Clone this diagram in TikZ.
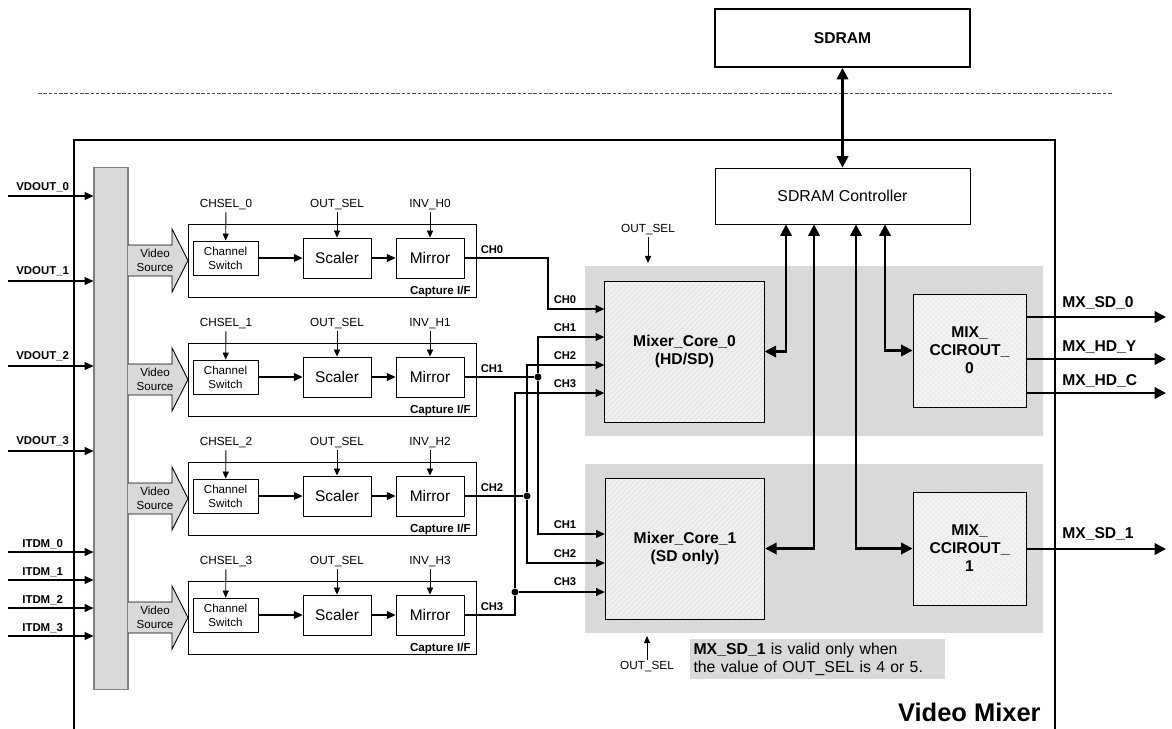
\documentclass[tikz,border=0pt]{standalone}
\usepackage{fontspec}
\setmainfont{Liberation Sans}
\usetikzlibrary{arrows.meta,patterns}

\begin{document}
\begin{tikzpicture}[x=0.02cm,y=-0.02cm,
    thin arrow/.style={line width=0.5pt,-{Triangle[length=4pt,width=3.5pt]}},
    med arrow/.style={line width=0.6pt,-{Triangle[length=5pt,width=4.5pt]}},
    mem arrow/.style={line width=1.3pt,{Triangle[length=6.5pt,width=6.5pt]}-{Triangle[length=6.5pt,width=6.5pt]}},
    out arrow/.style={line width=1.3pt,-{Triangle[length=6.5pt,width=6.5pt]}},
    small label/.style={font=\fontsize{6.7}{8}\selectfont,inner sep=1pt},
    pin label/.style={font=\bfseries\fontsize{6.5}{8}\selectfont,inner sep=0pt,anchor=west},
    ch label/.style={font=\bfseries\fontsize{6.4}{8}\selectfont,inner sep=0pt},
    out label/.style={font=\bfseries\fontsize{8.9}{10}\selectfont,inner sep=0pt,anchor=west},
    cap label/.style={font=\bfseries\fontsize{6.6}{8}\selectfont,inner sep=0pt,anchor=east},
    capbox/.style={draw,line width=0.5pt,minimum width=5.76cm,minimum height=1.46cm,inner sep=0pt},
    swbox/.style={draw,line width=0.5pt,minimum width=1.3cm,minimum height=0.68cm,inner sep=0pt,
        align=center,font=\fontsize{6.6}{8}\selectfont},
    blkbox/.style={draw,line width=0.5pt,minimum width=1.36cm,minimum height=0.8cm,inner sep=0pt,
        font=\fontsize{8.8}{10}\selectfont},
    srcname/.style={align=center,inner sep=0pt,font=\fontsize{6.6}{8}\selectfont},
    corebox/.style={draw,line width=0.5pt,minimum width=3.19cm,minimum height=2.82cm,
        preaction={fill=black!9},preaction={pattern=north east lines,pattern color=white!70!black!9},
        inner sep=0pt,align=center,font=\bfseries\fontsize{8.9}{10.2}\selectfont},
    ccirbox/.style={draw,line width=0.5pt,minimum width=2.26cm,minimum height=2.26cm,
        preaction={fill=black!8},preaction={pattern=crosshatch,pattern color=white!60!black!8},
        inner sep=0pt,align=center,font=\bfseries\fontsize{8.9}{10.3}\selectfont},
    membox/.style={draw,minimum width=5.1cm,inner sep=0pt},
    joint/.style={circle,fill,inner sep=0pt,minimum size=4pt},
  ]

\def\PANELGRAY{black!15}
\def\BUSGRAY{black!15}
\useasboundingbox (0,0) rectangle (1172,728);

	% memory side
	\draw[dash pattern=on 2pt off 1pt,line width=0.4pt,black!70] (38,93) -- (1113,93);
	\node[membox,line width=1.1pt,minimum height=1.16cm,font=\bfseries\fontsize{8.9}{10}\selectfont] (sdram) at (842.5,38) {SDRAM};
	\draw[line width=1.1pt] (74,740) -- (74,140) -- (1055,140) -- (1055,740);
	\node[membox,line width=0.5pt,minimum height=1.12cm,font=\fontsize{9}{10}\selectfont] (sdc) at (842.5,196) {SDRAM Controller};
	\draw[mem arrow] (sdram) -- (sdc);

	% gray panels
	\fill[\PANELGRAY] (585,266) rectangle (1043,436);
	\fill[\PANELGRAY] (585,464) rectangle (1043,633);

	% input bus
	\node[draw=gray,fill=\BUSGRAY,line width=0.6pt,minimum width=0.68cm,minimum height=10.46cm,inner sep=0pt] (bus) at (111,428.5) {};
	\coordinate (vd0) at (8,196);
	\coordinate (vd1) at (8,281);
	\coordinate (vd2) at (8,366);
	\coordinate (vd3) at (8,451);
	\coordinate (it0) at (8,552);
	\coordinate (it1) at (8,580);
	\coordinate (it2) at (8,608);
	\coordinate (it3) at (8,636);
	\draw[med arrow] (vd0) -- (bus.west |- vd0);
	\draw[med arrow] (vd1) -- (bus.west |- vd1);
	\draw[med arrow] (vd2) -- (bus.west |- vd2);
	\draw[med arrow] (vd3) -- (bus.west |- vd3);
	\draw[med arrow] (it0) -- (bus.west |- it0);
	\draw[med arrow] (it1) -- (bus.west |- it1);
	\draw[med arrow] (it2) -- (bus.west |- it2);
	\draw[med arrow] (it3) -- (bus.west |- it3);
	\node[pin label] (vdl0) at (16,187) {VDOUT\_0};
	\node[pin label] (vdl1) at (16,271) {VDOUT\_1};
	\node[pin label] (vdl2) at (16,356) {VDOUT\_2};
	\node[pin label] (vdl3) at (16,441) {VDOUT\_3};
	\node[pin label] (itl0) at (22,544) {ITDM\_0};
	\node[pin label] (itl1) at (22,572) {ITDM\_1};
	\node[pin label] (itl2) at (22,600) {ITDM\_2};
	\node[pin label] (itl3) at (22,628) {ITDM\_3};

	% video source arrows
	\draw[fill=\BUSGRAY,line width=0.5pt] (128,245) -- (172,245) -- (172,229) -- (188,260.5) -- (172,292) -- (172,276) -- (128,276);
	\draw[fill=\BUSGRAY,line width=0.5pt] (128,364) -- (172,364) -- (172,348) -- (188,379.5) -- (172,411) -- (172,395) -- (128,395);
	\draw[fill=\BUSGRAY,line width=0.5pt] (128,483) -- (172,483) -- (172,467) -- (188,498.5) -- (172,530) -- (172,514) -- (128,514);
	\draw[fill=\BUSGRAY,line width=0.5pt] (128,602) -- (172,602) -- (172,586) -- (188,617.5) -- (172,649) -- (172,633) -- (128,633);
	\node[srcname] (vs0) at (155,260.5) {Video\\Source};
	\node[srcname] (vs1) at (155,379.5) {Video\\Source};
	\node[srcname] (vs2) at (155,498.5) {Video\\Source};
	\node[srcname] (vs3) at (155,617.5) {Video\\Source};

	% capture row 0
	\node[capbox] (cap0) at (332,260.5) {};
	\node[swbox] (cs0) at (225.5,258) {Channel\\Switch};
	\node[blkbox] (sc0) at (337,258) {Scaler};
	\node[blkbox] (mi0) at (430,258) {Mirror};
	\node[small label] (chs0) at (226,205) {CHSEL\_0};
	\node[small label] (os0) at (337,205) {OUT\_SEL};
	\node[small label] (inv0) at (430,205) {INV\_H0};
	\node[cap label] (cl0) at (471,291) {Capture I/F};
	\draw[thin arrow] (chs0) -- (cs0);
	\draw[thin arrow] (os0) -- (sc0);
	\draw[thin arrow] (inv0) -- (mi0);
	\draw[med arrow] (cs0) -- (sc0);
	\draw[med arrow] (sc0) -- (mi0);

	% capture row 1
	\node[capbox] (cap1) at (332,379.5) {};
	\node[swbox] (cs1) at (225.5,377) {Channel\\Switch};
	\node[blkbox] (sc1) at (337,377) {Scaler};
	\node[blkbox] (mi1) at (430,377) {Mirror};
	\node[small label] (chs1) at (226,324) {CHSEL\_1};
	\node[small label] (os1) at (337,324) {OUT\_SEL};
	\node[small label] (inv1) at (430,324) {INV\_H1};
	\node[cap label] (cl1) at (471,410) {Capture I/F};
	\draw[thin arrow] (chs1) -- (cs1);
	\draw[thin arrow] (os1) -- (sc1);
	\draw[thin arrow] (inv1) -- (mi1);
	\draw[med arrow] (cs1) -- (sc1);
	\draw[med arrow] (sc1) -- (mi1);

	% capture row 2
	\node[capbox] (cap2) at (332,498.5) {};
	\node[swbox] (cs2) at (225.5,496) {Channel\\Switch};
	\node[blkbox] (sc2) at (337,496) {Scaler};
	\node[blkbox] (mi2) at (430,496) {Mirror};
	\node[small label] (chs2) at (226,443) {CHSEL\_2};
	\node[small label] (os2) at (337,443) {OUT\_SEL};
	\node[small label] (inv2) at (430,443) {INV\_H2};
	\node[cap label] (cl2) at (471,529) {Capture I/F};
	\draw[thin arrow] (chs2) -- (cs2);
	\draw[thin arrow] (os2) -- (sc2);
	\draw[thin arrow] (inv2) -- (mi2);
	\draw[med arrow] (cs2) -- (sc2);
	\draw[med arrow] (sc2) -- (mi2);

	% capture row 3
	\node[capbox] (cap3) at (332,617.5) {};
	\node[swbox] (cs3) at (225.5,615) {Channel\\Switch};
	\node[blkbox] (sc3) at (337,615) {Scaler};
	\node[blkbox] (mi3) at (430,615) {Mirror};
	\node[small label] (chs3) at (226,562) {CHSEL\_3};
	\node[small label] (os3) at (337,562) {OUT\_SEL};
	\node[small label] (inv3) at (430,562) {INV\_H3};
	\node[cap label] (cl3) at (471,648) {Capture I/F};
	\draw[thin arrow] (chs3) -- (cs3);
	\draw[thin arrow] (os3) -- (sc3);
	\draw[thin arrow] (inv3) -- (mi3);
	\draw[med arrow] (cs3) -- (sc3);
	\draw[med arrow] (sc3) -- (mi3);

	% mixer cores
	\node[corebox] (mc0) at (684.5,351.5) {Mixer\_Core\_0\\(HD/SD)};
	\node[corebox] (mc1) at (685,548.5) {Mixer\_Core\_1\\(SD only)};
	\node[ccirbox] (cc0) at (969.5,350.5) {MIX\_\\CCIROUT\_\\0};
	\node[ccirbox] (cc1) at (969.5,548.5) {MIX\_\\CCIROUT\_\\1};

	% channel wiring
	\node[joint] (j1) at (538,377) {};
	\node[joint] (j2) at (527,496) {};
	\node[joint] (j3) at (515,592) {};
	\draw[med arrow] (mi0.east) -- (548,258) |- (mc0.west |- 0,309);
	\draw[line width=0.6pt] (mi1.east) -- (j1);
	\draw[med arrow] (j1) |- (mc0.west |- 0,337);
	\draw[med arrow] (j1) |- (mc1.west |- 0,534);
	\draw[line width=0.6pt] (mi2.east) -- (j2);
	\draw[med arrow] (j2) |- (mc0.west |- 0,365);
	\draw[med arrow] (j2) |- (mc1.west |- 0,563);
	\draw[line width=0.6pt] (mi3.east) -| (j3);
	\draw[med arrow] (j3) |- (mc0.west |- 0,393);
	\draw[med arrow] (j3) -- (mc1.west |- j3);
	\node[ch label] (co0) at (492,250) {CH0};
	\node[ch label] (co1) at (492,369) {CH1};
	\node[ch label] (co2) at (492,488) {CH2};
	\node[ch label] (co3) at (492,607) {CH3};
	\node[ch label] (ca0) at (565,300) {CH0};
	\node[ch label] (ca1) at (565,328) {CH1};
	\node[ch label] (ca2) at (565,356) {CH2};
	\node[ch label] (ca3) at (565,384) {CH3};
	\node[ch label] (cb1) at (565,525) {CH1};
	\node[ch label] (cb2) at (565,554) {CH2};
	\node[ch label] (cb3) at (565,582) {CH3};

	% mode selects
	\node[small label] (osa) at (648,230) {OUT\_SEL};
	\node[small label] (osb) at (647,667) {OUT\_SEL};
	\draw[thin arrow] (osa) -- (648,263);
	\draw[thin arrow] (osb) -- (647,636);

	% memory links
	\draw[mem arrow] (mc0.east) -| (sdc.south -| 786,0);
	\draw[mem arrow] (mc1.east) -| (sdc.south -| 814,0);
	\draw[mem arrow] (cc1.west) -| (sdc.south -| 856,0);
	\draw[mem arrow] (cc0.west) -| (sdc.south -| 885,0);

	% outputs
	\coordinate (sd0) at (1166,317);
	\coordinate (hdy) at (1166,359);
	\coordinate (hdc) at (1166,393);
	\coordinate (sd1) at (1166,549);
	\draw[out arrow] (cc0.east |- sd0) -- (sd0);
	\draw[out arrow] (cc0.east |- hdy) -- (hdy);
	\draw[out arrow] (cc0.east |- hdc) -- (hdc);
	\draw[out arrow] (cc1.east |- sd1) -- (sd1);
	\node[out label] (sd0l) at (1062,303) {MX\_SD\_0};
	\node[out label] (hdyl) at (1062,347) {MX\_HD\_Y};
	\node[out label] (hdcl) at (1062,381) {MX\_HD\_C};
	\node[out label] (sd1l) at (1062,534) {MX\_SD\_1};

	% note and title
	\node[fill=\PANELGRAY,minimum width=5.1cm,minimum height=0.8cm,text width=4.96cm,inner xsep=0.07cm,inner ysep=0pt,
	    align=left,font=\fontsize{9}{10.3}\selectfont] (note) at (817.5,659) {\textbf{MX\_SD\_1} is valid only when\\the value of OUT\_SEL is 4 or 5.};
	\node[font=\bfseries\fontsize{14.5}{16}\selectfont,inner sep=0pt,anchor=east] (title) at (1041,712) {Video Mixer};

\end{tikzpicture}
\end{document}
